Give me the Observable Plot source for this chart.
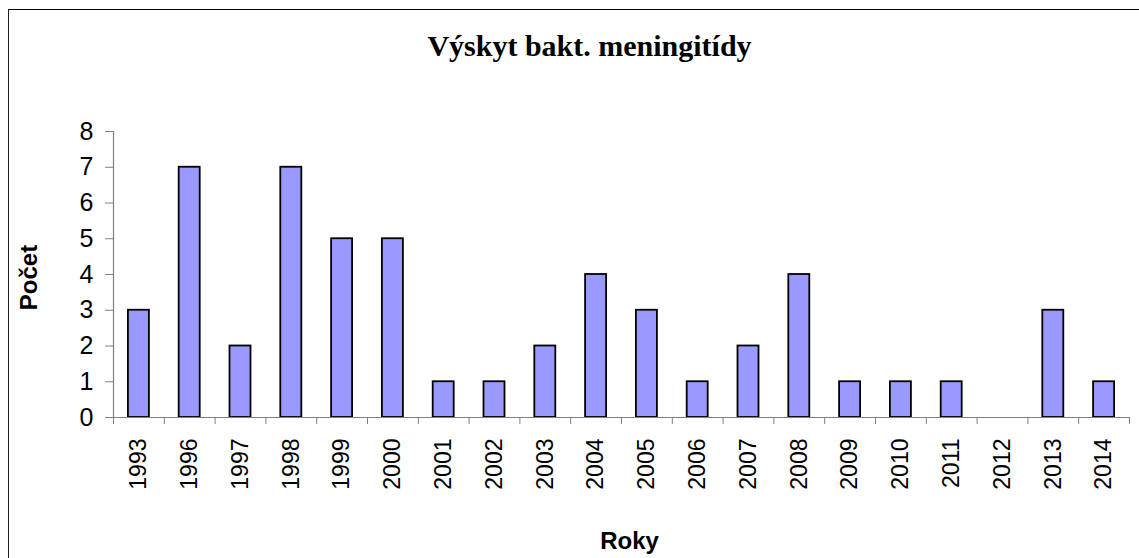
<!DOCTYPE html>
<html>
<head>
<meta charset="utf-8">
<script src="https://cdn.jsdelivr.net/npm/d3@7"></script>
<script src="https://cdn.jsdelivr.net/npm/@observablehq/plot@0.6"></script>
<style>
  html, body { margin: 0; padding: 0; background: #fff; }
  #wrap { position: relative; width: 1139px; height: 558px; overflow: hidden; }
  #border { position: absolute; left: 8px; top: 9px; width: 1200px; height: 700px;
            border-left: 1.5px solid #222; border-top: 1.5px solid #000; box-sizing: border-box; }
  #chart { position: absolute; left: 0; top: 0; }
</style>
</head>
<body>
<div id="wrap"><div id="border"></div><div id="chart"></div></div>
<script>
const years = ["1993","1996","1997","1998","1999","2000","2001","2002","2003","2004","2005","2006","2007","2008","2009","2010","2011","2012","2013","2014"];
const counts = [3,7,2,7,5,5,1,1,2,4,3,1,2,4,1,1,1,0,3,1];
const yTicks = [0,1,2,3,4,5,6,7,8];
const titleText = "Výskyt bakt. meningitídy";
const xLabel = "Roky";
const yLabel = "Počet";

const data = years.map((y, i) => ({year: y, count: counts[i]}));

const W = 1139, H = 558, mL = 113, mR = 10, mT = 131, mB = 141;
const step = (W - mL - mR) / years.length;
const barW = 21;
const inset = (step - barW) / 2;
const sans = "'Liberation Sans', Arial, sans-serif";

const chart = Plot.plot({
  width: W,
  height: H,
  marginLeft: mL,
  marginRight: mR,
  marginTop: mT,
  marginBottom: mB,
  style: {fontFamily: sans, fontSize: "23px", color: "#000", background: "transparent", overflow: "visible"},
  x: {domain: years, padding: 0, round: false, range: [mL, W - mR], label: null},
  y: {domain: [0, 8], ticks: yTicks, label: null},
  marks: [
    Plot.barY(data.filter(d => d.count > 0), {x: "year", y: "count", insetLeft: inset, insetRight: inset, fill: "#9999FF", stroke: "#000", strokeWidth: 1.8}),
    // y axis
    Plot.axisY({ticks: yTicks, tickSize: 8, tickPadding: 12, stroke: "#808080", fill: "#000", fontSize: 25, tickFormat: d => String(d)}),
    Plot.ruleX([years[0]], {x: d => d, dx: -step / 2, y1: 0, y2: 8, stroke: "#808080", strokeWidth: 1.2}),
    // x baseline
    Plot.ruleY([0], {stroke: "#808080", strokeWidth: 1.2}),
    // x ticks at band boundaries
    Plot.axisX({tickSize: 7, dx: -step / 2, text: null, stroke: "#808080"}),
    Plot.axisX([years[years.length - 1]], {tickSize: 7, dx: step / 2, text: null, stroke: "#808080"}),
    // x tick labels
    Plot.axisX({tickSize: 0, tickPadding: 21, tickRotate: -90, fill: "#000", fontSize: 23}),
    // title & axis labels
    Plot.text([titleText], {frameAnchor: "top", lineAnchor: "bottom", dy: -76, dx: -32, fontFamily: "'Liberation Serif', 'Times New Roman', serif", fontWeight: "bold", fontSize: 30, fill: "#000"}),
    Plot.text([xLabel], {frameAnchor: "bottom", lineAnchor: "bottom", dy: 131, dx: 8, fontWeight: "bold", fontSize: 24, fill: "#000"}),
    Plot.text([yLabel], {frameAnchor: "left", textAnchor: "middle", dx: -84, dy: 3, rotate: -90, fontWeight: "bold", fontSize: 24, fill: "#000"})
  ]
});
document.getElementById("chart").appendChild(chart);
</script>
</body>
</html>
